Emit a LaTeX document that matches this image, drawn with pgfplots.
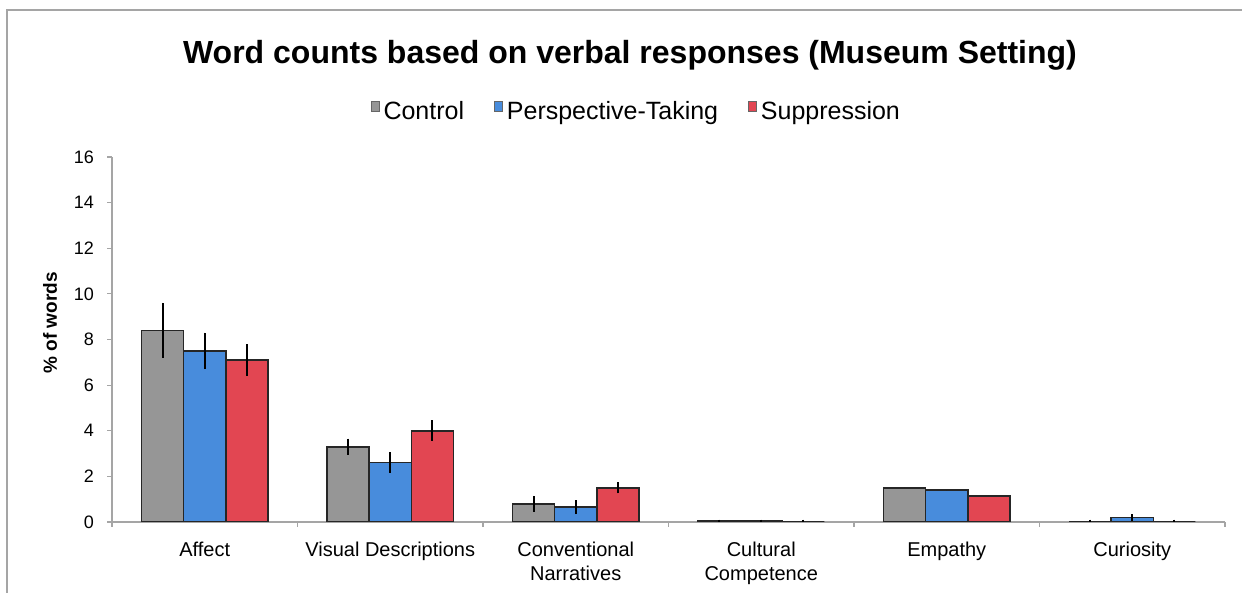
\documentclass[border=0pt]{standalone}
\usepackage{pgfplots}
\pgfplotsset{compat=1.18}
\usepackage{fontspec}
\setmainfont{Liberation Sans}

\definecolor{ctrl}{RGB}{150,150,150}
\definecolor{pers}{RGB}{72,140,220}
\definecolor{supp}{RGB}{226,70,82}
\definecolor{axgray}{RGB}{165,165,165}

\begin{document}
\begin{tikzpicture}[x=1pt,y=1pt]
\useasboundingbox (0,0) rectangle (621,296.5);
\draw[axgray, line width=1.2pt] (3.5,0) -- (3.5,291.5) -- (621,291.5);
\node[font=\fontsize{16}{18}\selectfont\bfseries] at (315,269) {Word counts based on verbal responses (Museum Setting)};
\begin{axis}[
    at={(56pt,35.5pt)}, anchor=south west,
    scale only axis,
    width=556.5pt, height=182.5pt,
    ybar=0pt, bar width=0.227,
    xmin=-0.5, xmax=5.5,
    ymin=0, ymax=16,
    ytick={0,2,...,16},
    xtick={0,...,5},
    xticklabels={Affect,Visual Descriptions,{Conventional\\Narratives},{Cultural\\Competence},Empathy,Curiosity},
    minor xtick={-0.5,0.5,...,5.5},
    axis x line*=bottom, axis y line*=left,
    axis line style={axgray, line width=0.8pt, -},
    tick style={axgray, line width=0.6pt},
    major x tick style={draw=none},
    tick align=outside,
    major tick length=2.5pt, minor tick length=2.5pt,
    /pgf/number format/assume math mode=true,
    yticklabel style={font=\fontsize{9}{10}\selectfont, xshift=-3pt},
    xticklabel style={font=\fontsize{10}{12}\selectfont, align=center, yshift=-4pt},
    ylabel={\% of words},
    ylabel style={font=\fontsize{9.5}{11}\selectfont\bfseries, at={(axis description cs:-0.0557,0.545)}, anchor=center},
    legend style={at={(0.472,1)}, anchor=center, yshift=22.5pt, draw=none, fill=none,
        legend columns=-1, font=\fontsize{12.5}{14}\selectfont,
        /tikz/every even column/.append style={column sep=13pt}},
    legend image code/.code={\draw[#1, draw=black!60, line width=0.4pt] (0pt,0.5pt) rectangle (4pt,5.5pt);},
    every axis plot/.append style={draw=black!85, line width=0.8pt},
    error bars/y dir=both, error bars/y explicit,
    error bars/error bar style={black, line width=1.1pt},
    error bars/error mark=none,
]
\addplot[fill=ctrl] coordinates {
    (0,8.4) +- (0,1.2)
    (1,3.3) +- (0,0.35)
    (2,0.8) +- (0,0.35)
    (3,0.05) +- (0,0.05)
    (4,1.5) +- (0,0)
    (5,0) +- (0,0.1)
};
\addplot[fill=pers] coordinates {
    (0,7.5) +- (0,0.8)
    (1,2.6) +- (0,0.45)
    (2,0.65) +- (0,0.3)
    (3,0.05) +- (0,0.05)
    (4,1.4) +- (0,0)
    (5,0.2) +- (0,0.15)
};
\addplot[fill=supp] coordinates {
    (0,7.1) +- (0,0.7)
    (1,4.0) +- (0,0.45)
    (2,1.5) +- (0,0.25)
    (3,0) +- (0,0.1)
    (4,1.15) +- (0,0)
    (5,0) +- (0,0.1)
};
\legend{Control,Perspective-Taking,Suppression}
\end{axis}
\end{tikzpicture}
\end{document}
